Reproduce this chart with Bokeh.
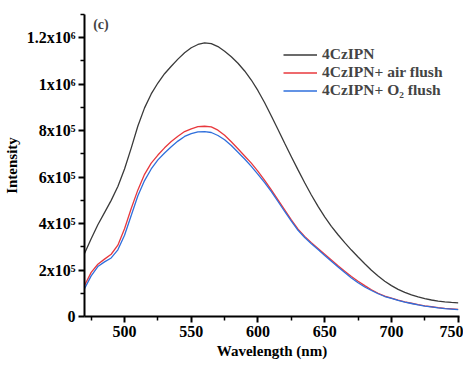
from bokeh.plotting import figure
from bokeh.models import FixedTicker, CustomJSTickFormatter, Legend, LegendItem, Label, Range1d
from bokeh.embed import file_html
from bokeh.resources import INLINE

wavelength = [470, 475, 480, 485, 490, 495, 500, 505, 510, 515, 520, 525, 530, 535, 540, 545,
              550, 555, 560, 565, 570, 575, 580, 585, 590, 595, 600, 605, 610, 615, 620, 625,
              630, 635, 640, 645, 650, 655, 660, 665, 670, 675, 680, 685, 690, 695, 700, 705,
              710, 715, 720, 725, 730, 735, 740, 745, 750]

cz_pristine = [2.71e5, 3.35e5, 3.95e5, 4.47e5, 5.0e5, 5.6e5, 6.35e5, 7.25e5, 8.2e5, 8.98e5, 9.58e5,
               1.005e6, 1.045e6, 1.077e6, 1.108e6, 1.135e6, 1.157e6, 1.171e6, 1.178e6, 1.175e6,
               1.162e6, 1.142e6, 1.118e6, 1.090e6, 1.057e6, 1.018e6, 9.72e5, 9.20e5, 8.63e5,
               8.05e5, 7.46e5, 6.88e5, 6.31e5, 5.76e5, 5.23e5, 4.74e5, 4.29e5, 3.88e5, 3.52e5,
               3.18e5, 2.86e5, 2.56e5, 2.27e5, 1.99e5, 1.74e5, 1.52e5, 1.33e5, 1.17e5, 1.04e5,
               9.3e4, 8.4e4, 7.7e4, 7.1e4, 6.6e4, 6.3e4, 6.05e4, 5.9e4]

cz_air = [1.34e5, 1.90e5, 2.25e5, 2.47e5, 2.68e5, 3.07e5, 3.78e5, 4.65e5, 5.45e5, 6.12e5, 6.60e5,
          6.95e5, 7.26e5, 7.53e5, 7.76e5, 7.96e5, 8.08e5, 8.17e5, 8.19e5, 8.16e5, 8.02e5, 7.80e5,
          7.52e5, 7.22e5, 6.91e5, 6.60e5, 6.25e5, 5.86e5, 5.45e5, 5.02e5, 4.59e5, 4.16e5, 3.76e5,
          3.45e5, 3.18e5, 2.93e5, 2.68e5, 2.43e5, 2.18e5, 1.95e5, 1.72e5, 1.52e5, 1.33e5, 1.15e5,
          1.00e5, 8.8e4, 7.9e4, 7.0e4, 6.3e4, 5.7e4, 5.1e4, 4.6e4, 4.2e4, 3.8e4, 3.5e4, 3.3e4, 3.1e4]

cz_o2 = [1.20e5, 1.75e5, 2.15e5, 2.35e5, 2.52e5, 2.87e5, 3.50e5, 4.35e5, 5.20e5, 5.85e5, 6.35e5,
         6.74e5, 7.04e5, 7.31e5, 7.55e5, 7.75e5, 7.87e5, 7.95e5, 7.96e5, 7.92e5, 7.79e5, 7.61e5,
         7.36e5, 7.07e5, 6.78e5, 6.46e5, 6.12e5, 5.76e5, 5.38e5, 4.95e5, 4.52e5, 4.11e5, 3.71e5,
         3.40e5, 3.13e5, 2.88e5, 2.63e5, 2.38e5, 2.13e5, 1.89e5, 1.66e5, 1.45e5, 1.27e5, 1.12e5,
         9.8e4, 8.6e4, 7.8e4, 6.9e4, 6.2e4, 5.6e4, 5.0e4, 4.5e4, 4.1e4, 3.7e4, 3.4e4, 3.2e4, 3.0e4]

series_labels = ["4CzIPN", "4CzIPN+ air flush", "4CzIPN+ O\u2082 flush"]
series_colors = ["#3a3a3a", "#e8383d", "#2f6fdc"]

x_ticks = [500, 550, 600, 650, 700, 750]
x_minor = [475, 525, 575, 625, 675, 725]
y_ticks = [0, 2e5, 4e5, 6e5, 8e5, 1e6, 1.2e6]
y_minor = [1e5, 3e5, 5e5, 7e5, 9e5, 1.1e6, 1.3e6]
y_tick_labels = ["0", "2x10\u2075", "4x10\u2075", "6x10\u2075", "8x10\u2075", "1x10\u2076", "1.2x10\u2076"]

FONT = "Liberation Serif"

p = figure(frame_width=375, frame_height=302, output_backend="svg", toolbar_location=None,
           x_range=Range1d(470, 751), y_range=Range1d(0, 1.3e6),
           min_border_left=83, min_border_right=4, min_border_top=14, min_border_bottom=47)
p.outline_line_color = None
p.xgrid.visible = False
p.ygrid.visible = False

renderers = []
for ys, col in zip([cz_pristine, cz_air, cz_o2], series_colors):
    r = p.line(wavelength, ys, line_color=col, line_width=1.3)
    renderers.append(r)

p.xaxis.ticker = FixedTicker(ticks=x_ticks, minor_ticks=x_minor)
p.yaxis.ticker = FixedTicker(ticks=y_ticks, minor_ticks=y_minor)
mapping = {str(int(t)): l for t, l in zip(y_ticks, y_tick_labels)}
p.yaxis.formatter = CustomJSTickFormatter(args=dict(m=mapping),
                                          code="return m[String(Math.round(tick))];")

for ax in (p.xaxis[0], p.yaxis[0]):
    ax.axis_line_width = 2
    ax.axis_line_color = "black"
    ax.major_tick_line_width = 2
    ax.minor_tick_line_width = 1.5
    ax.major_tick_out = 6
    ax.major_tick_in = 0
    ax.minor_tick_out = 4
    ax.minor_tick_in = 0
    ax.major_label_text_font = FONT
    ax.major_label_text_font_style = "bold"
    ax.major_label_text_font_size = "16px"
    ax.major_label_text_color = "black"
    ax.axis_label_text_font = FONT
    ax.axis_label_text_font_style = "bold"
    ax.axis_label_text_font_size = "15px"
    ax.axis_label_text_color = "black"

p.xaxis.axis_label = "Wavelength (nm)"
p.yaxis.axis_label = "Intensity"
p.xaxis.major_label_standoff = 3
p.yaxis.major_label_standoff = 3
p.xaxis.axis_label_standoff = 3
p.yaxis.axis_label_standoff = 4

legend = Legend(items=[LegendItem(label=l, renderers=[r]) for l, r in zip(series_labels, renderers)],
                location=(199, 217), padding=0, margin=0, spacing=0,
                glyph_width=34, glyph_height=17, label_standoff=5,
                label_text_font=FONT, label_text_font_style="bold",
                label_text_font_size="15.5px", label_height=17,
                border_line_color=None, background_fill_alpha=0)
p.add_layout(legend, "center")

p.add_layout(Label(x=476.5, y=1.29e6, text="(c)",
                   text_font=FONT, text_font_style="bold", text_font_size="14px",
                   text_baseline="top"))

open("out.html", "w").write(file_html(p, INLINE))
